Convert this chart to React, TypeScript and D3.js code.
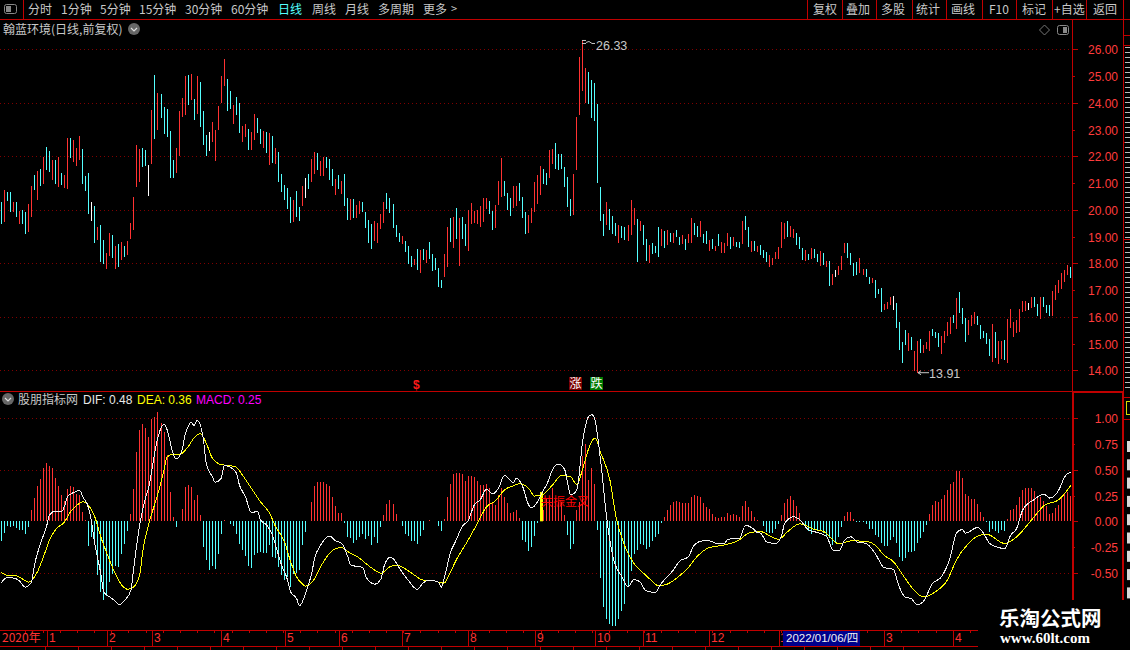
import React, { useEffect, useRef } from 'react';
import * as d3 from 'd3';

// daily bars
const priceHigh = [
  20.28, 20.74, 20.65, 20.65, 20.28, 20.28, 19.95, 20.0, 19.92, 20.2,
  20.9, 21.3, 21.45, 21.52, 21.98, 22.35, 22.2, 21.86, 21.86, 21.98,
  21.38, 21.3, 22.68, 22.68, 22.6, 22.31, 22.76, 22.27, 21.26, 21.38,
  20.29, 20.14, 19.36, 19.43, 18.87, 18.39, 19.13, 19.06, 18.65, 18.72,
  18.8, 18.65, 18.83, 19.51, 20.47, 22.42, 22.27, 22.31, 22.24, 21.68,
  23.73, 25.04, 24.37, 24.33, 23.85, 23.77, 22.95, 21.86, 22.31, 23.69,
  24.18, 25.0, 25.04, 25.08, 24.14, 25.0, 24.77, 23.69, 22.8, 22.91,
  23.28, 22.98, 23.88, 25.0, 25.64, 24.89, 24.44, 23.92, 24.22, 23.99,
  23.13, 23.21, 23.02, 22.91, 23.58, 23.43, 23.02, 22.95, 22.91, 22.87,
  22.76, 22.31, 22.16, 21.34, 20.93, 20.82, 20.49, 20.37, 20.7, 20.11,
  20.89, 21.19, 21.34, 21.9, 22.16, 22.12, 21.83, 21.98, 21.98, 21.9,
  21.53, 21.15, 21.3, 21.07, 21.34, 20.44, 20.4, 20.4, 20.18, 20.33,
  20.29, 19.92, 19.62, 19.47, 19.58, 19.51, 19.84, 20.29, 20.63, 20.44,
  20.22, 19.43, 19.13, 19.02, 18.83, 18.65, 18.27, 18.16, 18.54, 18.5,
  18.54, 18.5, 18.8, 18.35, 18.2, 17.83, 17.38, 18.35, 19.36, 19.69,
  19.73, 20.07, 19.69, 19.73, 19.47, 19.99, 20.26, 19.96, 19.99, 20.14,
  20.44, 20.44, 20.33, 19.96, 20.18, 21.08, 21.94, 21.08, 20.63, 20.44,
  20.89, 20.89, 21.0, 20.48, 19.92, 19.81, 20.07, 21.04, 21.3, 21.64,
  21.53, 21.38, 22.24, 22.27, 22.5, 22.09, 22.09, 21.6, 21.23, 20.4,
  21.34, 23.47, 25.71, 26.33, 25.3, 25.15, 24.85, 24.74, 23.96, 20.85,
  19.84, 20.29, 20.03, 19.77, 19.51, 19.43, 19.39, 19.36, 19.43,
  20.35, 20.05, 19.64, 19.6, 19.42, 18.89, 18.67, 18.75, 18.63, 19.34,
  19.27, 19.19, 19.23, 19.12, 19.12, 19.23, 19.0, 19.04, 18.89, 19.08,
  19.71, 19.49, 19.38, 19.57, 19.08, 19.19, 18.86, 18.89, 18.63, 19.08,
  18.78, 18.75, 19.12, 18.97, 18.97, 18.78, 18.78, 19.6, 19.75, 19.34,
  18.82, 18.82, 18.63, 18.67, 18.48, 18.41, 18.3, 18.19, 18.41, 18.6,
  19.53, 19.49, 19.57, 19.38, 19.3, 19.12, 18.97, 18.56, 18.48, 18.34,
  18.56, 18.52, 18.34, 18.45, 18.37, 18.07, 18.07, 17.59, 17.74, 17.89,
  18.26, 18.75, 18.75, 18.37, 18.0, 18.04, 18.19, 17.78, 17.78, 17.48,
  17.44, 17.37, 17.03, 17.07, 16.47, 16.55, 16.73, 16.77, 16.51, 15.8,
  15.06, 15.5, 15.39, 15.24, 14.72, 15.09, 15.17, 14.94, 15.06, 15.47,
  15.54, 15.43, 15.39, 15.28, 15.47, 15.8, 15.99, 16.06, 16.7, 16.92,
  16.32, 15.95, 15.88, 16.06, 16.17, 16.02, 15.69, 15.47, 15.39, 15.17,
  15.73, 15.43, 15.09, 15.09, 15.13, 15.91, 16.29, 15.8, 15.88, 16.29,
  16.58, 16.58, 16.51, 16.73, 16.73, 16.47, 16.73, 16.73, 16.43, 16.43,
  16.96, 17.18, 17.37, 17.63, 17.74, 17.93, 17.85,
];

const priceLow = [
  19.47, 19.55, 20.33, 19.92, 19.92, 19.73, 19.47, 19.47, 19.1, 19.17,
  19.73, 20.74, 20.37, 20.9, 20.97, 21.5, 21.42, 21.12, 20.97, 20.85,
  20.93, 20.82, 20.78, 21.94, 21.79, 21.64, 21.86, 20.97, 20.7, 19.85,
  19.58, 18.76, 18.87, 18.05, 17.98, 17.79, 18.27, 18.2, 17.79, 17.86,
  18.12, 18.24, 18.31, 18.91, 19.25, 20.85, 21.04, 21.6, 21.64, 20.52,
  21.71, 22.65, 22.98, 23.43, 22.83, 22.72, 21.19, 21.19, 21.38, 22.01,
  23.47, 23.55, 23.92, 24.11, 23.36, 23.58, 23.1, 22.42, 22.01, 22.2,
  22.53, 21.83, 22.98, 23.99, 24.63, 23.69, 23.77, 23.21, 23.55, 22.87,
  22.53, 22.72, 22.24, 22.24, 22.61, 22.87, 22.46, 22.31, 22.12, 21.68,
  21.75, 21.71, 21.04, 20.67, 20.37, 20.03, 19.51, 19.55, 19.73, 19.58,
  20.14, 20.44, 20.78, 21.04, 21.34, 21.49, 21.26, 21.26, 21.56, 21.12,
  20.89, 20.55, 20.78, 20.59, 20.14, 19.62, 19.62, 19.69, 19.69, 19.84,
  19.92, 19.32, 18.76, 18.54, 18.83, 18.76, 19.28, 19.51, 20.03, 19.88,
  19.32, 18.98, 18.8, 18.72, 18.42, 17.98, 17.86, 17.94, 17.75, 17.64,
  18.12, 18.01, 18.16, 17.71, 17.75, 17.12, 17.08, 17.49, 17.86, 18.8,
  18.57, 18.91, 17.9, 18.91, 18.65, 18.46, 19.47, 19.51, 19.47, 19.36,
  19.54, 20.03, 19.84, 19.25, 19.32, 20.18, 20.48, 20.52, 19.99, 19.77,
  20.07, 20.14, 20.33, 19.69, 19.1, 19.13, 19.51, 19.92, 20.22, 20.55,
  20.96, 20.93, 21.19, 21.71, 21.53, 21.49, 21.53, 20.85, 20.11, 19.77,
  19.81, 21.49, 23.55, 24.44, 23.99, 23.96, 23.43, 23.32, 21.0, 19.58,
  19.02, 19.43, 19.25, 19.1, 19.02, 18.76, 18.95, 18.87, 18.83,
  19.04, 19.42, 18.04, 19.19, 18.67, 18.07, 18.0, 18.34, 18.37, 18.22,
  18.63, 18.56, 18.67, 18.78, 18.75, 18.97, 18.67, 18.71, 18.48, 18.75,
  18.75, 19.04, 19.0, 19.0, 18.75, 18.71, 18.45, 18.52, 18.45, 18.63,
  18.37, 18.37, 18.63, 18.52, 18.63, 18.6, 18.56, 18.71, 19.23, 18.6,
  18.41, 18.45, 18.41, 18.3, 18.19, 18.04, 17.85, 17.92, 18.15, 18.15,
  18.56, 18.89, 19.0, 18.97, 18.93, 18.67, 18.52, 18.11, 18.07, 18.11,
  18.15, 18.19, 18.04, 17.89, 17.93, 17.85, 17.14, 17.18, 17.48, 17.55,
  17.74, 18.37, 18.19, 17.93, 17.52, 17.55, 17.63, 17.55, 17.48, 17.22,
  17.25, 16.7, 16.84, 16.17, 16.25, 16.29, 16.43, 16.25, 15.58, 14.76,
  14.27, 14.94, 14.72, 14.76, 13.98, 13.91, 14.65, 14.65, 14.8, 14.72,
  15.28, 15.2, 14.87, 14.61, 15.02, 15.28, 15.35, 15.76, 15.54, 16.14,
  15.73, 15.06, 15.32, 15.65, 15.73, 15.69, 15.17, 15.2, 14.98, 14.53,
  14.31, 14.46, 14.24, 14.42, 14.38, 14.27, 15.58, 15.24, 15.39, 15.43,
  16.17, 16.21, 16.25, 16.32, 16.36, 16.02, 15.91, 16.36, 16.14, 16.02,
  16.02, 16.62, 16.88, 17.03, 17.29, 17.55, 17.44,
];

// r = up, c = down, w = flat
const barKind = (
  'crccrcrccr' + 'rcrcrccrcr' + 'crrcrrrccc' + 'wcrccrrcrc' + 'rcrrrrrccw' +
  'rcrcccccrr' + 'rrcrcrcccw' + 'rrrrrccrcc' + 'rrcrrccrcr' + 'crcccccrcc' +
  'rwcrrcrrcc' + 'crcrccrcrr' + 'ccccrrrrcc' + 'cccrcccrcr' + 'crcccccrrc' +
  'rcrccrrrrr' + 'rrccrrrccc' + 'rrcccrrrrr' + 'ccrrcccccc' + 'rrrrrccccc' +
  'crcccrccr' +
  'rrcrccrccc' + 'rcrcrccrcr' + 'rccrccrcrc' + 'rrrcrccrcc' + 'rcrcccrrrr' +
  'rrcrrcccrc' + 'rccrcrcrwr' + 'rrccccrrcc' + 'rcccrrrwcc' + 'ccrcrrcrrr' +
  'cccrrrrcrc' + 'ccrrrccccc' + 'rcrrcrrrrr' + 'rrwrccrccc' + 'rrrrrrc'
).split('');

const macdValues = [
  -0.19, -0.11, -0.05, -0.06, -0.05, -0.065, -0.085, -0.08, -0.12, -0.06,
  0.11, 0.23, 0.34, 0.415, 0.52, 0.565, 0.54, 0.52, 0.42, 0.345,
  0.255, 0.2, 0.31, 0.34, 0.33, 0.265, 0.255, 0.09, 0.01, -0.24,
  -0.15, -0.21, -0.52, -0.69, -0.76, -0.73, -0.59, -0.51, -0.43, -0.44,
  -0.32, -0.22, -0.09, 0.07, 0.31, 0.67, 0.89, 0.94, 0.91, 0.82,
  0.99, 1.01, 1.06, 0.95, 0.87, 0.64, 0.28, 0.04, -0.06, 0,
  0.115, 0.33, 0.35, 0.33, 0.21, 0.255, 0.06, -0.25, -0.38, -0.47,
  -0.435, -0.46, -0.32, -0.12, 0.015, 0.005, -0.03, -0.05, -0.12, -0.22,
  -0.28, -0.34, -0.435, -0.45, -0.325, -0.305, -0.295, -0.31, -0.31, -0.23,
  -0.345, -0.36, -0.44, -0.52, -0.57, -0.545, -0.64, -0.51, -0.5, -0.47,
  -0.23, -0.1, 0.005, 0.19, 0.345, 0.38, 0.385, 0.385, 0.365, 0.345,
  0.235, 0.145, 0.08, 0.08, -0.02, -0.155, -0.165, -0.21, -0.18, -0.15,
  -0.125, -0.175, -0.14, -0.23, -0.155, -0.21, -0.06, 0.06, 0.17, 0.21,
  0.17, 0.07, 0.005, -0.045, -0.12, -0.14, -0.19, -0.195, -0.22, -0.14,
  -0.08, 0.005, 0.01, 0.006, 0, -0.05, -0.095, 0.02, 0.235, 0.365,
  0.46, 0.47, 0.47, 0.46, 0.395, 0.44, 0.44, 0.43, 0.39, 0.355,
  0.355, 0.365, 0.32, 0.175, 0.16, 0.255, 0.32, 0.24, 0.18, 0.08,
  0.095, 0.105, 0.03, -0.18, -0.2, -0.285, -0.245, -0.14, -0.015, 0.1,
  0.11, 0.22, 0.21, 0.32, 0.22, 0.19, 0.19, 0.06, -0.13, -0.27,
  -0.22, 0.105, 0.19, 0.63, 0.75, 0.4, 0.52, 0.365, -0.085, -0.555,
  -0.83, -0.945, -1.0, -1.02, -1.02, -0.95, -0.87, -0.805, -0.64, -0.48,
  -0.32, -0.28, -0.22, -0.23, -0.27, -0.25, -0.19, -0.155, -0.12, -0.015,
  0.04, 0.105, 0.16, 0.185, 0.2, 0.19, 0.18, 0.175, 0.175, 0.24,
  0.255, 0.25, 0.24, 0.175, 0.14, 0.115, 0.07, 0.04, 0.03, 0.04,
  0.045, 0.08, 0.06, 0.07, 0.06, 0.045, 0.15, 0.2, 0.14, 0.1,
  0.04, 0.01, 0.003, -0.05, -0.1, -0.11, -0.11, -0.07, -0.03, 0.06,
  0.175, 0.215, 0.245, 0.21, 0.15, 0.08, 0.005, -0.06, -0.09, -0.125,
  -0.085, -0.085, -0.08, -0.115, -0.15, -0.165, -0.23, -0.21, -0.15, -0.06,
  0.05, 0.09, 0.09, 0.02, -0.005, -0.005, -0.01, -0.025, -0.07, -0.07,
  -0.13, -0.15, -0.215, -0.235, -0.235, -0.18, -0.15, -0.215, -0.345, -0.39,
  -0.36, -0.3, -0.295, -0.285, -0.215, -0.165, -0.1, -0.035, 0.07, 0.16,
  0.2, 0.19, 0.215, 0.255, 0.3, 0.365, 0.385, 0.485, 0.485, 0.42,
  0.265, 0.25, 0.215, 0.215, 0.17, 0.095, 0.04, -0.01, -0.1, -0.07,
  -0.09, -0.115, -0.085, -0.09, 0.02, 0.105, 0.12, 0.16, 0.235, 0.3,
  0.32, 0.325, 0.325, 0.295, 0.225, 0.235, 0.2, 0.145, 0.07, 0.08,
  0.125, 0.16, 0.225, 0.265, 0.28, 0.25,
];

// [bar index, value]
const difPoints: [number, number][] = [
  [0, -0.6], [1, -0.56], [2, -0.545], [5, -0.56], [6, -0.58], [8, -0.64], [10, -0.59], [11, -0.425], [13, -0.215], [15, -0.05],
  [16, 0.06], [18, 0.1], [20, 0.095], [21, 0.15], [22, 0.24], [24, 0.28], [26, 0.3], [27, 0.24], [29, 0.125], [30, -0.02],
  [31, -0.215], [33, -0.505], [34, -0.685], [36, -0.735], [38, -0.78], [39, -0.81], [41, -0.765], [43, -0.67], [44, -0.44], [45, -0.215],
  [46, -0.02], [48, 0.24], [49, 0.34], [50, 0.5], [51, 0.68], [53, 0.905], [54, 0.94], [55, 0.89], [57, 0.66], [58, 0.605],
  [60, 0.695], [61, 0.84], [62, 0.92], [63, 0.96], [64, 0.93], [65, 0.98], [67, 0.81], [68, 0.565], [70, 0.435], [71, 0.38],
  [73, 0.42], [74, 0.54], [76, 0.525], [78, 0.47], [79, 0.355], [81, 0.24], [83, 0.085], [85, 0.095], [86, 0.015], [88, -0.035],
  [90, -0.135], [91, -0.23], [93, -0.425], [95, -0.57], [96, -0.685], [98, -0.75], [99, -0.82], [101, -0.7], [103, -0.505], [104, -0.36],
  [106, -0.23], [109, -0.145], [111, -0.19], [113, -0.215], [115, -0.345], [116, -0.425], [120, -0.45], [121, -0.54], [124, -0.61], [126, -0.56],
  [127, -0.44], [129, -0.35], [130, -0.36], [132, -0.45], [135, -0.57], [138, -0.66], [140, -0.6], [142, -0.57], [145, -0.59], [146, -0.64],
  [147, -0.555], [149, -0.31], [151, -0.18], [153, -0.05], [155, 0.01], [157, 0.16], [159, 0.21], [161, 0.31], [163, 0.265], [165, 0.32],
  [167, 0.445], [170, 0.375], [171, 0.42], [173, 0.34], [175, 0.16], [176, 0.13], [178, 0.19], [180, 0.305], [181, 0.355], [183, 0.505],
  [185, 0.555], [187, 0.5], [189, 0.255], [191, 0.305], [193, 0.79], [195, 1.02], [196, 1.035], [197, 0.985], [199, 0.565], [201, 0.015],
  [203, -0.345], [206, -0.54], [208, -0.635], [210, -0.565], [212, -0.59], [214, -0.675], [217, -0.69], [219, -0.605], [223, -0.475], [225, -0.39],
  [228, -0.345], [230, -0.23], [233, -0.19], [235, -0.19], [238, -0.22], [240, -0.22], [241, -0.175], [245, -0.165], [247, -0.04], [249, -0.06],
  [251, -0.11], [252, -0.115], [254, -0.2], [257, -0.215], [259, -0.135], [260, -0.02], [263, 0.045], [265, 0.015], [268, -0.085], [271, -0.11],
  [274, -0.15], [276, -0.28], [278, -0.285], [280, -0.18], [282, -0.15], [284, -0.2], [287, -0.215], [290, -0.31], [293, -0.45], [296, -0.465],
  [298, -0.635], [300, -0.735], [302, -0.75], [304, -0.81], [306, -0.78], [309, -0.605], [312, -0.54], [315, -0.345], [317, -0.115], [319, -0.08],
  [320, -0.115], [324, -0.06], [326, -0.115], [328, -0.215], [331, -0.255], [333, -0.265], [335, -0.135], [337, -0.07], [339, 0.11], [343, 0.215],
  [346, 0.265], [348, 0.225], [351, 0.305], [353, 0.435], [355, 0.48],
];

const deaPoints: [number, number][] = [
  [0, -0.5], [2, -0.525], [5, -0.53], [7, -0.56], [9, -0.59], [12, -0.49], [14, -0.345], [16, -0.18], [18, -0.08], [21, -0.005],
  [23, 0.095], [26, 0.175], [27, 0.19], [29, 0.15], [31, 0.045], [33, -0.15], [35, -0.31], [38, -0.52], [40, -0.62], [42, -0.66],
  [44, -0.635], [46, -0.505], [47, -0.28], [49, -0.02], [52, 0.27], [54, 0.5], [55, 0.625], [57, 0.65], [59, 0.645], [62, 0.725],
  [64, 0.81], [66, 0.85], [68, 0.76], [70, 0.615], [73, 0.55], [76, 0.54], [78, 0.525], [80, 0.45], [83, 0.32], [86, 0.19],
  [89, 0.08], [91, -0.05], [94, -0.2], [96, -0.39], [98, -0.54], [100, -0.61], [101, -0.63], [104, -0.555], [106, -0.44], [109, -0.31],
  [111, -0.265], [113, -0.255], [115, -0.295], [119, -0.36], [121, -0.41], [124, -0.475], [126, -0.505], [129, -0.44], [131, -0.425], [134, -0.46],
  [137, -0.52], [140, -0.57], [142, -0.57], [147, -0.6], [148, -0.555], [151, -0.375], [155, -0.18], [158, -0.02], [161, 0.14], [164, 0.2],
  [167, 0.305], [170, 0.345], [172, 0.365], [175, 0.32], [177, 0.245], [180, 0.265], [183, 0.355], [186, 0.445], [189, 0.43], [191, 0.355],
  [193, 0.515], [195, 0.71], [197, 0.81], [199, 0.66], [202, 0.4], [204, 0.045], [207, -0.245], [210, -0.41], [213, -0.5], [216, -0.58],
  [218, -0.625], [221, -0.61], [224, -0.555], [228, -0.45], [231, -0.34], [235, -0.255], [240, -0.23], [245, -0.18], [248, -0.115], [252, -0.1],
  [255, -0.14], [258, -0.175], [261, -0.1], [265, -0.025], [270, -0.08], [273, -0.1], [275, -0.15], [278, -0.22], [282, -0.19], [287, -0.195],
  [290, -0.23], [293, -0.33], [296, -0.39], [300, -0.555], [303, -0.67], [306, -0.735], [310, -0.685], [314, -0.57], [317, -0.375], [321, -0.215],
  [324, -0.145], [327, -0.125], [333, -0.215], [337, -0.15], [342, 0.015], [346, 0.15], [351, 0.21], [355, 0.35],
];

const priceTicks = [26, 25, 24, 23, 22, 21, 20, 19, 18, 17, 16, 15, 14];
const priceGrid = [26, 24, 22, 20, 18, 16, 14];
const macdTicks = [1, 0.75, 0.5, 0.25, 0, -0.25, -0.5];
const macdGrid = [1, 0.5, -0.5];

const monthLabels = ['1', '2', '3', '4', '5', '6', '7', '8', '9', '10', '11', '12', '1', '3', '4'];
const monthStarts = [15, 35, 50, 73, 94, 112, 133, 155, 177, 197, 213, 235, 258, 293, 316];

const periodTabs = ['分时', '1分钟', '5分钟', '15分钟', '30分钟', '60分钟', '日线', '周线', '月线', '多周期', '更多'];
const periodTabX = [28, 61, 100, 139, 185, 231, 278, 312, 345, 378, 423];
const toolTabs = ['复权', '叠加', '多股', '统计', '画线', 'F10', '标记', '+自选', '返回'];
const toolTabX = [813, 846, 881, 916, 951, 989, 1022, 1054, 1093];
const toolSeparators = [807, 842, 876, 912, 946, 982, 1016, 1052, 1086, 1123];

const crossIndex = 179;
const crossValue = 0.285;
const highIndex = 193;
const lowIndex = 304;

const RED = '#ff3232';
const CYAN = '#54ffff';
const LINE = '#c00000';
const GRID = '#800000';
const TEXT = '#c8c8c8';
const CJK = '"Noto Sans CJK SC", sans-serif';
const LATIN = '"Liberation Sans", Arial, sans-serif';

const App: React.FC = () => {
  const ref = useRef<SVGSVGElement>(null);

  useEffect(() => {
    if (!ref.current) return;
    const svg = d3.select(ref.current);
    svg.selectAll('*').remove();

    const n = priceHigh.length;
    const x = d3.scaleLinear().domain([0, 355]).range([1.33, 1070.9]);
    const py = d3.scaleLinear().domain([26, 14]).range([49.3, 370.3]);
    const my = d3.scaleLinear().domain([1, -0.5]).range([418.3, 572.8]);
    const col = (i: number) => Math.floor(x(i));

    const hline = (g: any, x1: number, x2: number, y: number, color = LINE, w = 1) =>
      g.append('rect').attr('x', x1).attr('y', y).attr('width', x2 - x1).attr('height', w).attr('fill', color);
    const vline = (g: any, xx: number, y1: number, y2: number, color = LINE, w = 1) =>
      g.append('rect').attr('x', xx).attr('y', y1).attr('width', w).attr('height', y2 - y1).attr('fill', color);
    const label = (g: any, s: string, xx: number, y: number, color = TEXT, size = 12, font = CJK) =>
      g.append('text').attr('x', xx).attr('y', y).attr('fill', color).style('font-size', `${size}px`).style('font-family', font).text(s);

    svg.append('rect').attr('width', 1130).attr('height', 650).attr('fill', '#000');

    // toolbar
    const bar = svg.append('g');
    hline(bar, 0, 1130, 19);
    vline(bar, 23, 0, 19);
    bar.append('rect').attr('x', 4.5).attr('y', 4.5).attr('width', 12).attr('height', 9).attr('rx', 2).attr('fill', 'none').attr('stroke', '#888');
    bar.append('rect').attr('x', 6).attr('y', 6).attr('width', 5).attr('height', 6).attr('fill', '#888');
    periodTabs.forEach((t, i) => label(bar, t, periodTabX[i], 14, t === '日线' ? CYAN : TEXT));
    label(bar, '>', 451, 13, TEXT, 11);
    toolTabs.forEach((t, i) => label(bar, t, toolTabX[i], 14));
    toolSeparators.forEach(s => vline(bar, s, 0, 19));

    // title row
    label(svg, '翰蓝环境(日线,前复权)', 3, 34);
    const chevron = (cx: number, cy: number) => {
      svg.append('circle').attr('cx', cx).attr('cy', cy).attr('r', 6).attr('fill', '#666');
      svg.append('path').attr('d', `M${cx - 3},${cy - 1}L${cx},${cy + 2}L${cx + 3},${cy - 1}`).attr('fill', 'none').attr('stroke', '#ddd').attr('stroke-width', 1.2);
    };
    chevron(134, 29);
    svg.append('path').attr('d', 'M1044.5,25L1049.5,30L1044.5,35L1039.5,30Z').attr('fill', 'none').attr('stroke', '#777');
    svg.append('rect').attr('x', 1057.5).attr('y', 25.5).attr('width', 11).attr('height', 9).attr('rx', 2).attr('fill', 'none').attr('stroke', '#888');
    svg.append('rect').attr('x', 1063).attr('y', 27).attr('width', 4).attr('height', 6).attr('fill', '#888');

    // grid
    const dots = (y: number) =>
      svg.append('line').attr('x1', 0).attr('x2', 1071).attr('y1', y).attr('y2', y)
        .attr('stroke', GRID).attr('stroke-dasharray', '1,3').attr('shape-rendering', 'crispEdges');
    priceGrid.forEach(p => dots(Math.round(py(p)) + 0.5));
    macdGrid.forEach(v => dots(Math.round(my(v)) + 0.5));

    // price bars
    const color = (k: string) => (k === 'r' ? RED : k === 'c' ? CYAN : '#fff');
    svg.append('g').selectAll('rect').data(d3.range(n)).join('rect')
      .attr('x', i => col(i))
      .attr('y', i => py(priceHigh[i]))
      .attr('width', 1)
      .attr('height', i => py(priceLow[i]) - py(priceHigh[i]))
      .attr('fill', i => color(barKind[i]))
      .attr('shape-rendering', 'crispEdges');

    // high / low flags
    const flagX = col(highIndex);
    const flagY = py(priceHigh[highIndex]);
    svg.append('path').attr('d', `M${flagX},${flagY}h4M${flagX},${flagY + 3}h4M${flagX + 4},${flagY + 2}l3,-1l3,2l3,0`).attr('fill', 'none').attr('stroke', TEXT);
    label(svg, '26.33', 596, 50, TEXT, 12.5, LATIN);
    const lowX = col(lowIndex);
    const lowY = py(priceLow[lowIndex]);
    svg.append('path').attr('d', `M${lowX + 1},${lowY}h11M${lowX + 1},${lowY}l3,-2M${lowX + 1},${lowY}l3,2`).attr('fill', 'none').attr('stroke', TEXT);
    label(svg, '13.91', 929, 378, TEXT, 12.5, LATIN);

    // signal row
    label(svg, '$', 413, 389, '#ff1a1a', 12, LATIN).style('font-weight', 'bold');
    svg.append('rect').attr('x', 569).attr('y', 377).attr('width', 13).attr('height', 13).attr('fill', '#7a0000');
    label(svg, '涨', 569.5, 388, '#fff', 12);
    svg.append('rect').attr('x', 590).attr('y', 377).attr('width', 13).attr('height', 13).attr('fill', '#007a00');
    label(svg, '跌', 590.5, 388, '#fff', 12);

    // panel divider
    hline(svg, 0, 1124, 391);
    hline(svg, 1072, 1124, 391, LINE, 2);

    // macd header
    chevron(8, 399);
    label(svg, '股朋指标网', 18, 404);
    label(svg, 'DIF: 0.48', 83, 404, '#e8e8e8', 12, LATIN);
    label(svg, 'DEA: 0.36', 137, 404, '#ffff00', 12, LATIN);
    label(svg, 'MACD: 0.25', 196, 404, '#ff00ff', 12, LATIN);

    // macd histogram
    svg.append('g').selectAll('rect').data(d3.range(macdValues.length)).join('rect')
      .attr('x', i => col(i))
      .attr('y', i => (macdValues[i] >= 0 ? my(macdValues[i]) : my(0)))
      .attr('width', 1)
      .attr('height', i => Math.abs(my(macdValues[i]) - my(0)))
      .attr('fill', i => (macdValues[i] >= 0 ? RED : CYAN))
      .attr('shape-rendering', 'crispEdges');

    // golden cross marker
    svg.append('rect').attr('x', col(crossIndex)).attr('y', my(crossValue)).attr('width', 3)
      .attr('height', my(0) - my(crossValue)).attr('fill', '#ffff00');

    // dif / dea
    const line = d3.line<[number, number]>().x(d => x(d[0])).y(d => my(d[1])).curve(d3.curveMonotoneX);
    svg.append('path').datum(deaPoints).attr('d', line as any).attr('fill', 'none').attr('stroke', '#ffff00').attr('stroke-width', 1).attr('shape-rendering', 'crispEdges');
    svg.append('path').datum(difPoints).attr('d', line as any).attr('fill', 'none').attr('stroke', '#f0f0f0').attr('stroke-width', 1).attr('shape-rendering', 'crispEdges');
    label(svg, '共振金叉', 541, 506, '#ff0000', 12);

    // price axis
    vline(svg, 1072, 19, 391);
    priceTicks.forEach(p => {
      const y = Math.round(py(p));
      hline(svg, 1072, p % 2 === 0 ? 1078 : 1075, y);
      label(svg, p.toFixed(2), 1118, y + 5, '#ff3c3c', 12, LATIN).attr('text-anchor', 'end');
    });

    // macd axis
    vline(svg, 1072, 392, 600, LINE, 2);
    vline(svg, 1122, 392, 600, LINE, 2);
    macdTicks.forEach(v => {
      const y = Math.round(my(v));
      hline(svg, 1072, macdGrid.includes(v) || v === 0 ? 1078 : 1075, y);
      label(svg, v.toFixed(2), 1118, y + 5, '#ff3c3c', 12, LATIN).attr('text-anchor', 'end');
    });

    // clipped side panel on the right edge
    vline(svg, 1123, 19, 392);
    [35, 45, 142, 239, 337, 397, 419].forEach(y => hline(svg, 1123, 1130, y));
    d3.range(47, 390, 5).forEach(y => hline(svg, 1125, 1130, y, '#bdbdbd'));
    svg.append('rect').attr('x', 1126.5).attr('y', 401.5).attr('width', 6).attr('height', 13).attr('fill', 'none').attr('stroke', '#d8d800');
    d3.range(441, 600, 18.3).forEach(y => svg.append('rect').attr('x', 1127).attr('y', y).attr('width', 3).attr('height', 11).attr('fill', '#d8d8d8'));

    // date axis
    hline(svg, 0, 978, 630);
    hline(svg, 0, 978, 646);
    label(svg, '2020年', 2, 642, RED, 12);
    monthStarts.forEach((m, i) => {
      vline(svg, Math.round(x(m)), 630, 646);
      label(svg, monthLabels[i], Math.round(x(m)) + (m === 258 ? 1 : 2), 642, RED, 12, LATIN);
    });
    d3.range(8, n, 5.7).forEach(i => vline(svg, Math.round(x(i)), 630, 633));
    svg.append('rect').attr('x', 783).attr('y', 631).attr('width', 77).attr('height', 15).attr('fill', '#00008c');
    label(svg, '2022/01/06/四', 786, 642, '#f0f0f0', 11.5, LATIN + ', ' + CJK);
    d3.range(45, 930, 33).forEach(s => vline(svg, s, 646, 650));

    // watermark
    svg.append('rect').attr('x', 978).attr('y', 601).attr('width', 152).attr('height', 49).attr('fill', '#000');
    label(svg, '乐淘公式网', 999, 626, '#ffffff', 20.5).style('font-weight', 'bold');
    label(svg, 'www.60lt.com', 1000, 643, '#ffffff', 15, '"Liberation Serif", serif').style('font-weight', 'bold');
  }, []);

  return <svg ref={ref} width={1130} height={650} style={{ position: 'fixed', left: 0, top: 0, display: 'block' }}></svg>;
};

export default App;
